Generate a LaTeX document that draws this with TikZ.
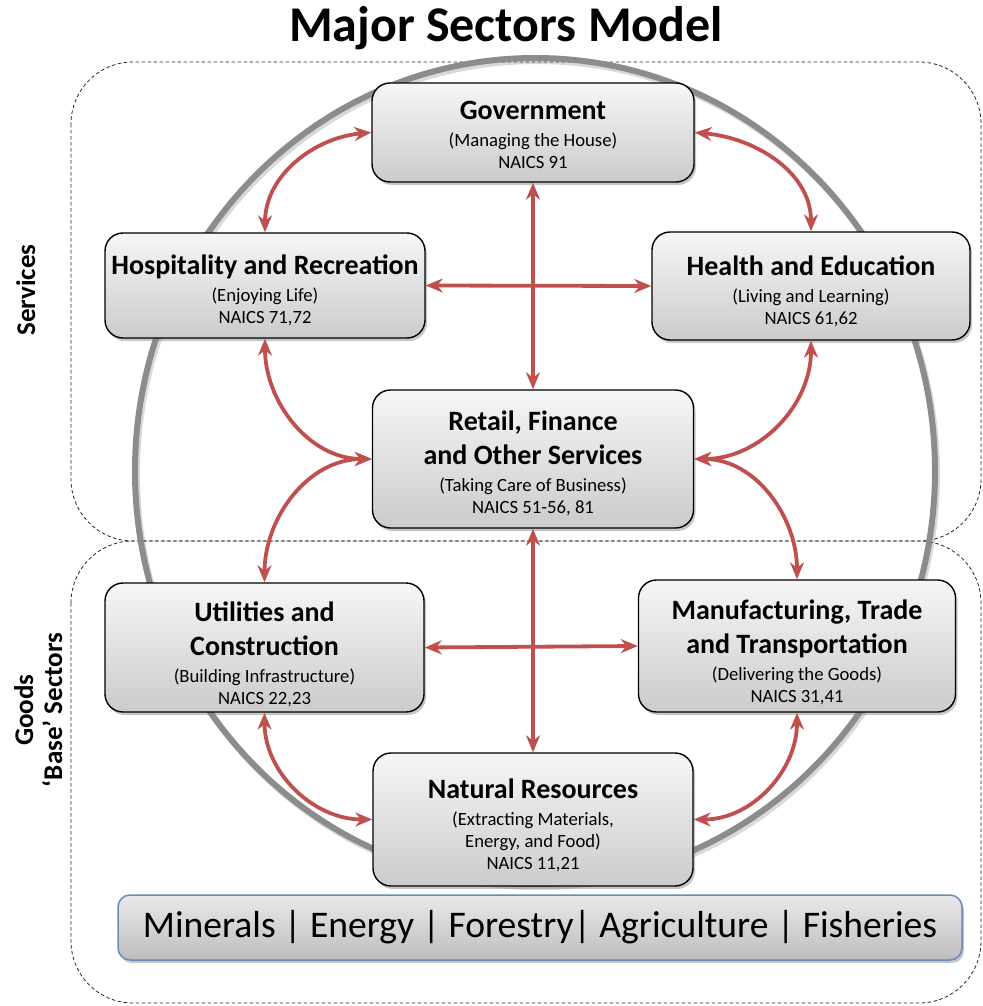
\documentclass[tikz,border=0pt]{standalone}
\usepackage{fontspec}
\setmainfont{Carlito}
\usetikzlibrary{arrows.meta,shadows}

\definecolor{linkred}{HTML}{C0504D}
\definecolor{ringgray}{HTML}{8C8C8C}
\definecolor{boxtop}{HTML}{F6F6F6}
\definecolor{boxbot}{HTML}{CBCBCB}
\definecolor{bartop}{HTML}{E9E9E9}
\definecolor{barbot}{HTML}{BDBDBD}
\definecolor{barline}{HTML}{6A8BB5}

% bold heading line inside a sector box
\newcommand\hd[1]{{\fontsize{28}{34}\selectfont\bfseries #1}}
% invisible strut that pushes a box's text block a little lower
\newcommand\lift[1]{\rule{0pt}{#1}}

\begin{document}
\begin{tikzpicture}[x=1pt,y=1pt,
  sector/.style={draw=black, line width=1.4pt, rounded corners=18pt,
    top color=boxtop, bottom color=boxbot,
    drop shadow={opacity=0.45, shadow xshift=2pt, shadow yshift=-3pt},
    align=center, inner sep=0pt, font=\fontsize{18.7}{34}\selectfont},
  basebar/.style={draw=barline, line width=1.5pt, rounded corners=12pt,
    top color=bartop, bottom color=barbot,
    drop shadow={opacity=0.45, shadow xshift=2pt, shadow yshift=-3pt},
    inner sep=0pt, font=\fontsize{37.6}{40}\selectfont},
  link/.style={draw=linkred, line width=3.8pt,
    {Stealth[length=17pt,width=14pt]}-{Stealth[length=17pt,width=14pt]}},
  region/.style={draw=black!85, line width=0.8pt,
    dash pattern=on 3.5pt off 2.5pt, rounded corners=62pt},
  side/.style={rotate=90, anchor=base, font=\fontsize{27}{29}\selectfont\bfseries}]

\useasboundingbox (0,0) rectangle (982,-1006);

% title
\node[anchor=base, font=\fontsize{50}{60}\selectfont\bfseries] (title) at (506,-42) {Major Sectors Model};

% dashed groupings
\draw[region] (71,-62) rectangle (981,-541);
\draw[region] (71,-541) rectangle (981,-1003);

\node[side] (services) at (35,-290) {Services};
\node[side] (goods) at (33,-710) {Goods};
\node[side] (base) at (62,-710) {‘Base’ Sectors};

% the economy ring
\draw[line width=6pt, black, opacity=0.15] (537,-474) ellipse [x radius=400, y radius=413];
\draw[line width=6pt, ringgray] (535,-471) ellipse [x radius=400, y radius=413];

% sectors
\node[sector, minimum width=322pt, minimum height=99pt] (gov) at (533,-132.5)
  {\lift{24pt}\hd{Government}\\[-7pt] (Managing the House)\\[-12pt] NAICS 91};
\node[sector, minimum width=320pt, minimum height=105pt] (hosp) at (265,-285.5)
  {\lift{30pt}\hd{Hospitality and Recreation}\\[-7pt] (Enjoying Life)\\[-12pt] NAICS 71,72};
\node[sector, minimum width=318pt, minimum height=108pt] (health) at (811,-286)
  {\lift{30pt}\hd{Health and Education}\\[-7pt] (Living and Learning)\\[-12pt] NAICS 61,62};
\node[sector, minimum width=321pt, minimum height=138pt] (retail) at (533,-459)
  {\lift{28pt}\hd{Retail, Finance}\\ \hd{and Other Services}\\[-7pt] (Taking Care of Business)\\[-12pt] NAICS 51-56, 81};
\node[sector, minimum width=319pt, minimum height=129pt] (util) at (264.5,-647.5)
  {\lift{33pt}\hd{Utilities and}\\ \hd{Construction}\\[-7pt] (Building Infrastructure)\\[-12pt] NAICS 22,23};
\node[sector, minimum width=317pt, minimum height=132pt] (manuf) at (797,-646)
  {\lift{33pt}\hd{Manufacturing, Trade}\\ \hd{and Transportation}\\[-7pt] (Delivering the Goods)\\[-12pt] NAICS 31,41};
\node[sector, minimum width=320pt, minimum height=133pt] (natres) at (533,-819.5)
  {\lift{31pt}\hd{Natural Resources}\\[-7pt] (Extracting Materials,\\[-12pt] Energy, and Food)\\[-12pt] NAICS 11,21};

\node[basebar, minimum width=844pt, minimum height=65pt] (bar) at (540,-927.5)
  {Minerals | Energy | Forestry| Agriculture | Fisheries};

% links between sectors
\draw[link] (gov.west) to[out=185, in=90] (hosp.north);
\draw[link] (gov.east) to[out=-5, in=90] (health.north);
\draw[link] (gov.south) -- (retail.north);
\draw[link] (hosp.east) -- (health.west);
\draw[link] (hosp.south) to[out=-90, in=180] (retail.west);
\draw[link] (health.south) to[out=-90, in=0] (retail.east);
\draw[link] (retail.west) to[out=180, in=90] (util.north);
\draw[link] (retail.east) to[out=0, in=90] (manuf.north);
\draw[link] (retail.south) -- (natres.north);
\draw[link] (util.east) -- (manuf.west);
\draw[link] (util.south) to[out=-90, in=180] (natres.west);
\draw[link] (manuf.south) to[out=-90, in=0] (natres.east);

\end{tikzpicture}
\end{document}
